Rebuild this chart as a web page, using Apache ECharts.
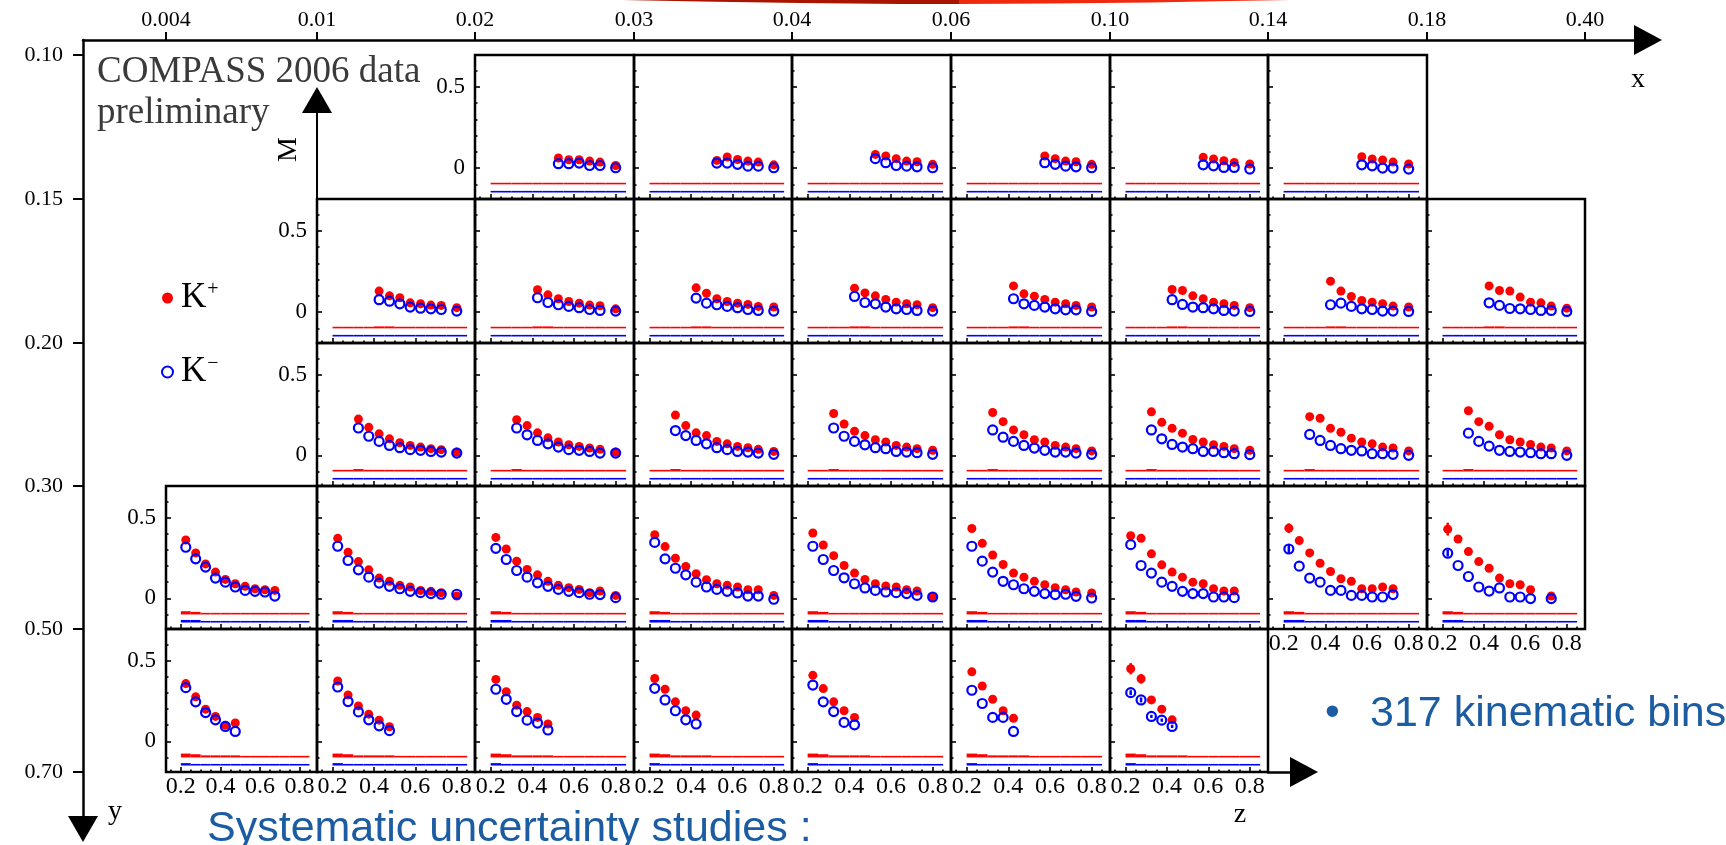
<!DOCTYPE html>
<html><head><meta charset="utf-8">
<script src="https://cdn.jsdelivr.net/npm/echarts@6/dist/echarts.min.js"></script>
<style>html,body{margin:0;padding:0;background:#fff}#c{width:1726px;height:845px}</style>
</head><body><div id="c"></div>
<script>
// ================= DATA =================
const X_BIN_LABELS = ['0.004','0.01','0.02','0.03','0.04','0.06','0.10','0.14','0.18','0.40'];
const Y_BIN_LABELS = ['0.10','0.15','0.20','0.30','0.50','0.70'];
const Z_CENTERS = [0.225,0.275,0.325,0.375,0.425,0.475,0.525,0.575,0.625,0.675,0.725,0.8];
const Z_LOW  = [0.20,0.25,0.30,0.35,0.40,0.45,0.50,0.55,0.60,0.65,0.70,0.75];
const Z_HIGH = [0.25,0.30,0.35,0.40,0.45,0.50,0.55,0.60,0.65,0.70,0.75,0.85];
const Z_TICK_LABELS = [0.2,0.4,0.6,0.8];
const M_TICK_LABELS = [0,0.5];

// row 1: y 0.10-0.15
const ROW1_COLS = [2,3,4,5,6,7];
const ROW1_FIRST_Z = [6,6,6,7,7,7];
const ROW1_KP = [
  [0.062,0.051,0.051,0.043,0.037,0.016],
  [0.047,0.068,0.053,0.043,0.037,0.020],
  [0.084,0.074,0.058,0.043,0.039,0.023],
  [0.074,0.058,0.043,0.039,0.023],
  [0.066,0.056,0.045,0.035,0.025],
  [0.070,0.056,0.050,0.037,0.025]];
const ROW1_KM = [
  [0.027,0.027,0.031,0.016,0.016,0.002],
  [0.031,0.031,0.023,0.012,0.012,0.002],
  [0.058,0.033,0.016,0.012,0.008,0.002],
  [0.033,0.023,0.012,0.008,0.002],
  [0.020,0.014,0.004,0.004,-0.006],
  [0.020,0.014,0.000,0.000,-0.006]];
const ROW1_SYS_KP = [0,0,0,0,0,0,0,0,0,0,0,0];
const ROW1_SYS_KM = [0,0,0,0,0,0,0,0,0,0,0,0];

// row 2: y 0.15-0.20
const ROW2_COLS = [1,2,3,4,5,6,7,8];
const ROW2_FIRST_Z = [4,4,4,4,4,4,4,4];
const ROW2_KP = [
  [0.129,0.100,0.088,0.057,0.051,0.043,0.041,0.027],
  [0.137,0.106,0.082,0.065,0.055,0.043,0.039,0.020],
  [0.149,0.116,0.082,0.065,0.055,0.047,0.035,0.031],
  [0.147,0.118,0.100,0.078,0.061,0.051,0.045,0.027],
  [0.161,0.112,0.098,0.078,0.061,0.051,0.041,0.031],
  [0.139,0.133,0.100,0.082,0.061,0.051,0.041,0.027],
  [0.190,0.129,0.096,0.071,0.061,0.051,0.037,0.031],
  [0.161,0.133,0.129,0.092,0.061,0.057,0.037,0.024]];
const ROW2_KM = [
  [0.076,0.067,0.051,0.031,0.024,0.020,0.016,0.006],
  [0.088,0.059,0.045,0.035,0.027,0.016,0.010,0.006],
  [0.086,0.055,0.045,0.035,0.027,0.016,0.010,0.006],
  [0.096,0.059,0.051,0.031,0.020,0.016,0.010,0.006],
  [0.082,0.051,0.041,0.031,0.020,0.014,0.014,0.004],
  [0.076,0.047,0.031,0.027,0.020,0.010,0.006,0.004],
  [0.045,0.055,0.035,0.020,0.016,0.006,0.006,0.004],
  [0.057,0.041,0.022,0.020,0.016,0.010,0.010,0.004]];
const ROW2_KP_ERR = [null,null,null,null,null,null,[0.015],null];
const ROW2_SYS_KP = [0,0,0,0,0.012,0.012,0.005,0.005,0.005,0.005,0.005,0.005];
const ROW2_SYS_KM = [0,0,0,0,0.006,0.006,0.006,0.006,0.006,0.006,0.006,0.006];

// row 3: y 0.20-0.30
const ROW3_COLS = [1,2,3,4,5,6,7,8];
const ROW3_FIRST_Z = [2,2,2,2,2,2,2,2];
const ROW3_KP = [
  [0.224,0.173,0.133,0.102,0.078,0.061,0.051,0.041,0.035,0.020],
  [0.220,0.184,0.139,0.108,0.082,0.065,0.055,0.045,0.037,0.020],
  [0.249,0.184,0.139,0.122,0.086,0.071,0.055,0.047,0.037,0.024],
  [0.259,0.194,0.149,0.122,0.096,0.082,0.061,0.051,0.041,0.031],
  [0.265,0.208,0.157,0.127,0.096,0.082,0.061,0.051,0.041,0.027],
  [0.269,0.204,0.167,0.137,0.098,0.082,0.065,0.055,0.041,0.031],
  [0.239,0.229,0.167,0.143,0.106,0.082,0.071,0.051,0.045,0.027],
  [0.276,0.208,0.180,0.127,0.096,0.082,0.067,0.051,0.045,0.027]];
const ROW3_KM = [
  [0.169,0.118,0.086,0.061,0.047,0.035,0.031,0.024,0.020,0.014],
  [0.169,0.127,0.092,0.071,0.051,0.035,0.031,0.024,0.014,0.014],
  [0.153,0.122,0.092,0.071,0.047,0.035,0.024,0.020,0.014,0.006],
  [0.169,0.118,0.086,0.065,0.047,0.041,0.024,0.020,0.016,0.006],
  [0.157,0.112,0.086,0.061,0.045,0.031,0.020,0.020,0.014,0.006],
  [0.157,0.102,0.067,0.051,0.041,0.024,0.024,0.016,0.010,0.004],
  [0.129,0.092,0.061,0.041,0.031,0.027,0.010,0.010,0.006,0.000],
  [0.137,0.086,0.057,0.031,0.024,0.020,0.016,0.010,0.010,0.000]];
const ROW3_SYS_KP = [0,0,0.015,0.010,0.010,0.004,0.004,0.004,0.004,0.004,0.004,0.004];
const ROW3_SYS_KM = [0,0,0.008,0,0,0,0,0,0,0,0,0];

// row 4: y 0.30-0.50
const ROW4_COLS = [0,1,2,3,4,5,6,7,8];
const ROW4_FIRST_Z = [0,0,0,0,0,0,0,0,0];
const ROW4_KP = [
  [0.361,0.281,0.213,0.162,0.117,0.090,0.074,0.059,0.053,0.049],
  [0.371,0.285,0.227,0.176,0.125,0.105,0.080,0.070,0.049,0.043,0.035,0.014],
  [0.377,0.305,0.230,0.178,0.145,0.105,0.080,0.066,0.055,0.035,0.045,0.018],
  [0.393,0.320,0.248,0.197,0.152,0.115,0.090,0.080,0.070,0.053,0.053,0.018],
  [0.404,0.330,0.264,0.203,0.156,0.117,0.090,0.076,0.070,0.053,0.045,0.008],
  [0.432,0.340,0.268,0.209,0.156,0.131,0.105,0.084,0.066,0.053,0.039,0.033],
  [0.387,0.371,0.275,0.207,0.162,0.131,0.100,0.090,0.059,0.045,0.045],
  [0.434,0.357,0.281,0.217,0.166,0.121,0.105,0.059,0.059,0.070,0.059],
  [0.428,0.367,0.289,0.227,0.186,0.125,0.090,0.084,0.053,null,0.014]];
const ROW4_KM = [
  [0.316,0.244,0.193,0.125,0.100,0.070,0.049,0.043,0.039,0.014],
  [0.322,0.234,0.176,0.131,0.094,0.074,0.059,0.043,0.035,0.029,0.025,0.025],
  [0.309,0.240,0.172,0.131,0.096,0.074,0.055,0.043,0.035,0.025,0.023,0.004],
  [0.346,0.244,0.186,0.145,0.100,0.070,0.055,0.043,0.033,0.014,0.014,-0.006],
  [0.322,0.240,0.172,0.127,0.090,0.064,0.049,0.039,0.035,0.029,0.018,0.008],
  [0.322,0.230,0.162,0.105,0.084,0.059,0.043,0.029,0.023,0.025,0.012,0.002],
  [0.332,0.203,0.156,0.100,0.074,0.043,0.029,0.029,0.008,0.008,0.004],
  [0.305,0.199,0.125,0.100,0.049,0.049,0.018,0.018,0.008,0.008,0.023],
  [0.279,0.203,0.135,0.070,0.045,0.064,0.008,0.008,-0.002,null,-0.002]];
const ROW4_KP_ERR = [null,null,null,null,null,null,null,[0.030],[0.040]];
const ROW4_KM_ERR = [null,null,null,null,null,null,null,[0.030],[0.020]];
const ROW4_SYS_KP = [0.020,0.016,0.008,0.008,0.004,0.003,0.003,0.003,0.003,0.003,0.003,0.003];
const ROW4_SYS_KM = [0.016,0.016,0.008,0.008,0.008,0.008,0.008,0.008,0.008,0.008,0.003,0.003];

// row 5: y 0.50-0.70
const ROW5_COLS = [0,1,2,3,4,5,6];
const ROW5_FIRST_Z = [0,0,0,0,0,0,0];
const ROW5_KP = [
  [0.357,0.275,0.199,0.154,0.100,0.113],
  [0.373,0.287,0.219,0.168,0.131,0.090],
  [0.383,0.307,0.223,0.184,0.148,0.107],
  [0.389,0.322,0.244,0.189,0.162],
  [0.408,0.326,0.244,0.189,0.148],
  [0.430,0.342,0.260,0.189,0.143],
  [0.449,0.387,0.256,0.199,0.133]];
const ROW5_KM = [
  [0.332,0.244,0.178,0.133,0.092,0.061],
  [0.336,0.246,0.182,0.133,0.096,0.066],
  [0.322,0.260,0.184,0.131,0.113,0.070],
  [0.328,0.256,0.189,0.133,0.107],
  [0.348,0.244,0.184,0.117,0.102],
  [0.316,0.234,0.148,0.148,0.061],
  [0.301,0.256,0.154,0.131,0.092]];
const ROW5_KP_ERR = [null,null,null,null,null,null,[0.035,0.030,0.015,0.020,0.020]];
const ROW5_KM_ERR = [null,null,null,null,null,null,[0.015,0.015,0.010,0.010,0.010]];
const ROW5_SYS_KP = [0.024,0.020,0.013,0.013,0.013,0.013,0,0,0,0,0,0];
const ROW5_SYS_KM = [0.015,0.010,0,0,0,0,0,0,0,0,0,0];

// ================= LAYOUT / STYLE =================
const COL_X = [166,317,475,634,792,951,1110,1268,1427,1585];
const ROW_Y = [55,199,343,486,629,772];
const Z_MIN = 0.125, Z_MAX = 0.888, M_MIN = -0.19, M_MAX = 0.695;
const Z_MINOR = [0.15,0.25,0.3,0.35,0.45,0.5,0.55,0.65,0.7,0.75,0.85];
const M_MINOR = [-0.1,0.1,0.2,0.3,0.4,0.6];
const KP_BASE = -0.1, KM_BASE = -0.15;
const RED = '#ff0000', BLUE = '#0000ff';
const SERIF = '"Liberation Serif","Times New Roman",serif';
const SANS = '"Liberation Sans",Arial,sans-serif';
const TXT_BLUE = '#1c5ca2';

const ROWS = [
  {cols:ROW1_COLS, first:ROW1_FIRST_Z, kp:ROW1_KP, km:ROW1_KM, kpErr:[], kmErr:[], sysKp:ROW1_SYS_KP, sysKm:ROW1_SYS_KM},
  {cols:ROW2_COLS, first:ROW2_FIRST_Z, kp:ROW2_KP, km:ROW2_KM, kpErr:ROW2_KP_ERR, kmErr:[], sysKp:ROW2_SYS_KP, sysKm:ROW2_SYS_KM},
  {cols:ROW3_COLS, first:ROW3_FIRST_Z, kp:ROW3_KP, km:ROW3_KM, kpErr:[], kmErr:[], sysKp:ROW3_SYS_KP, sysKm:ROW3_SYS_KM},
  {cols:ROW4_COLS, first:ROW4_FIRST_Z, kp:ROW4_KP, km:ROW4_KM, kpErr:ROW4_KP_ERR, kmErr:ROW4_KM_ERR, sysKp:ROW4_SYS_KP, sysKm:ROW4_SYS_KM},
  {cols:ROW5_COLS, first:ROW5_FIRST_Z, kp:ROW5_KP, km:ROW5_KM, kpErr:ROW5_KP_ERR, kmErr:ROW5_KM_ERR, sysKp:ROW5_SYS_KP, sysKm:ROW5_SYS_KM}
];

const grid = [], xAxis = [], yAxis = [], series = [];
const tickStyle = {color:'#000', width:1.6};

function bandRenderer(base, color) {
  return function (params, api) {
    const p0 = api.coord([api.value(0), base + api.value(2)]);
    const p1 = api.coord([api.value(1), base]);
    const h = Math.max(p1[1] - p0[1], 1.6);
    return {type:'rect', shape:{x:p0[0], y:p1[1] - h, width:p1[0] - p0[0], height:h}, style:{fill:color}};
  };
}
function errRenderer(color) {
  return function (params, api) {
    const z = api.value(0), v = api.value(1), e = api.value(2);
    const a = api.coord([z, v - e]), b = api.coord([z, v + e]);
    return {type:'line', shape:{x1:a[0], y1:a[1], x2:b[0], y2:b[1]}, style:{stroke:color, lineWidth:2.5}};
  };
}

ROWS.forEach(function (row, r) {
  row.cols.forEach(function (c, i) {
    const g = grid.length;
    grid.push({left:COL_X[c], top:ROW_Y[r], width:COL_X[c+1]-COL_X[c], height:ROW_Y[r+1]-ROW_Y[r],
      show:true, borderColor:'#000', borderWidth:2.5, backgroundColor:'transparent', containLabel:false, outerBoundsMode:'none'});
    const below = ROWS[r+1] && ROWS[r+1].cols.indexOf(c) >= 0;
    const xi = xAxis.length;
    xAxis.push({type:'value', gridIndex:g, min:Z_MIN, max:Z_MAX, position:'bottom',
      axisLine:{show:false, onZero:false}, splitLine:{show:false},
      axisTick:{show:true, inside:true, length:5, customValues:Z_TICK_LABELS, lineStyle:tickStyle},
      axisLabel:{show:!below, customValues:Z_TICK_LABELS, margin:3, color:'#000', fontSize:24, fontFamily:SERIF,
        formatter:function (v) { return String(v); }}});
    xAxis.push({type:'value', gridIndex:g, min:Z_MIN, max:Z_MAX, position:'bottom',
      axisLine:{show:false, onZero:false}, splitLine:{show:false}, axisLabel:{show:false},
      axisTick:{show:true, inside:true, length:2.5, customValues:Z_MINOR, lineStyle:tickStyle}});
    const yi = yAxis.length;
    yAxis.push({type:'value', gridIndex:g, min:M_MIN, max:M_MAX, position:'left',
      axisLine:{show:false, onZero:false}, splitLine:{show:false},
      axisTick:{show:true, inside:true, length:5, customValues:M_TICK_LABELS, lineStyle:tickStyle},
      axisLabel:{show:i === 0, customValues:M_TICK_LABELS, margin:10, color:'#000', fontSize:23, fontFamily:SERIF,
        formatter:function (v) { return String(v); }}});
    yAxis.push({type:'value', gridIndex:g, min:M_MIN, max:M_MAX, position:'left',
      axisLine:{show:false, onZero:false}, splitLine:{show:false}, axisLabel:{show:false},
      axisTick:{show:true, inside:true, length:2.5, customValues:M_MINOR, lineStyle:tickStyle}});

    const bins = Z_LOW.map(function (lo, k) { return [lo, Z_HIGH[k], row.sysKp[k]]; });
    const binsM = Z_LOW.map(function (lo, k) { return [lo, Z_HIGH[k], row.sysKm[k]]; });
    series.push({type:'custom', xAxisIndex:xi, yAxisIndex:yi, silent:true, z:2, renderItem:bandRenderer(KP_BASE, RED), data:bins});
    series.push({type:'custom', xAxisIndex:xi, yAxisIndex:yi, silent:true, z:2, renderItem:bandRenderer(KM_BASE, BLUE), data:binsM});

    const f = row.first[i];
    const kp = row.kp[i].map(function (v, k) { return [Z_CENTERS[f+k], v]; }).filter(function (p) { return p[1] !== null; });
    const km = row.km[i].map(function (v, k) { return [Z_CENTERS[f+k], v]; }).filter(function (p) { return p[1] !== null; });
    if (row.kpErr[i]) {
      series.push({type:'custom', xAxisIndex:xi, yAxisIndex:yi, silent:true, z:3, renderItem:errRenderer(RED),
        data:row.kpErr[i].map(function (e, k) { return [Z_CENTERS[f+k], row.kp[i][k], e]; })});
    }
    if (row.kmErr[i]) {
      series.push({type:'custom', xAxisIndex:xi, yAxisIndex:yi, silent:true, z:3, renderItem:errRenderer(BLUE),
        data:row.kmErr[i].map(function (e, k) { return [Z_CENTERS[f+k], row.km[i][k], e]; })});
    }
    series.push({type:'scatter', name:'K+', xAxisIndex:xi, yAxisIndex:yi, symbol:'circle', symbolSize:9, z:4,
      itemStyle:{color:RED, opacity:1}, emphasis:{disabled:true}, data:kp});
    series.push({type:'scatter', name:'K−', xAxisIndex:xi, yAxisIndex:yi, symbol:'circle', symbolSize:9, z:5,
      itemStyle:{color:'rgba(0,0,0,0)', borderColor:BLUE, borderWidth:2.2, opacity:1}, emphasis:{disabled:true}, data:km});
  });
});

// ---- outer axes ----
// top x axis (bin edges)
let g = grid.length;
grid.push({left:83, top:40, width:1648-83, height:1, show:false, containLabel:false, outerBoundsMode:'none'});
xAxis.push({type:'value', gridIndex:g, min:83, max:1648, position:'top',
  axisLine:{show:true, onZero:false, lineStyle:{color:'#000', width:2.5}, symbol:['none','triangle'], symbolSize:[30,28]},
  axisTick:{show:true, inside:false, length:8, customValues:COL_X, lineStyle:{color:'#000', width:2}},
  axisLabel:{show:true, customValues:COL_X, margin:9, color:'#000', fontSize:22, fontFamily:SERIF,
    formatter:function (v) { return X_BIN_LABELS[COL_X.indexOf(v)]; }},
  splitLine:{show:false}});
yAxis.push({type:'value', gridIndex:g, show:false});
// left y axis (bin edges), arrow at the bottom
g = grid.length;
grid.push({left:83, top:40, width:1, height:829-40, show:false, containLabel:false, outerBoundsMode:'none'});
xAxis.push({type:'value', gridIndex:g, show:false});
yAxis.push({type:'value', gridIndex:g, inverse:true, min:40, max:829, position:'left',
  axisLine:{show:true, onZero:false, lineStyle:{color:'#000', width:2.5}, symbol:['triangle','none'], symbolSize:[30,26]},
  axisTick:{show:true, inside:false, length:10, customValues:ROW_Y, lineStyle:{color:'#000', width:2}},
  axisLabel:{show:true, customValues:ROW_Y, margin:20, color:'#000', fontSize:22, fontFamily:SERIF,
    formatter:function (v) { return Y_BIN_LABELS[ROW_Y.indexOf(v)]; }},
  splitLine:{show:false}});
// M arrow
g = grid.length;
grid.push({left:317, top:100, width:1, height:99, show:false, containLabel:false, outerBoundsMode:'none'});
xAxis.push({type:'value', gridIndex:g, show:false});
yAxis.push({type:'value', gridIndex:g, min:0, max:1, position:'left',
  axisLine:{show:true, onZero:false, lineStyle:{color:'#000', width:2}, symbol:['none','triangle'], symbolSize:[30,26]},
  axisTick:{show:false}, axisLabel:{show:false}, splitLine:{show:false},
  name:'M', nameLocation:'middle', nameRotate:90, nameGap:14,
  nameTextStyle:{fontSize:28, fontFamily:SERIF, color:'#000'}});
// z arrow
g = grid.length;
grid.push({left:1268, top:772, width:1304-1268, height:1, show:false, containLabel:false, outerBoundsMode:'none'});
xAxis.push({type:'value', gridIndex:g, min:0, max:1, position:'top',
  axisLine:{show:true, onZero:false, lineStyle:{color:'#000', width:2.5}, symbol:['none','triangle'], symbolSize:[30,28]},
  axisTick:{show:false}, axisLabel:{show:false}, splitLine:{show:false}});
yAxis.push({type:'value', gridIndex:g, show:false});

const chart = echarts.init(document.getElementById('c'), null, {renderer:'canvas'});
chart.setOption({
  animation:false,
  backgroundColor:'#fff',
  grid:grid, xAxis:xAxis, yAxis:yAxis, series:series,
  legend:{orient:'vertical', left:156, top:274, itemWidth:11, itemHeight:11, itemGap:36, selectedMode:false,
    data:[{name:'K+', icon:'circle', itemStyle:{color:RED}},
          {name:'K−', icon:'circle', itemStyle:{color:'rgba(0,0,0,0)', borderColor:BLUE, borderWidth:2}}],
    formatter:function (n) { return n === 'K+' ? '{k|K}{s|+}' : '{k|K}{s|−}'; },
    textStyle:{fontSize:35, fontFamily:SERIF, color:'#000', lineHeight:38,
      rich:{k:{fontSize:35, fontFamily:SERIF, color:'#000', padding:[0,0,0,3]},
            s:{fontSize:20, fontFamily:SERIF, color:'#000', padding:[0,0,16,1]}}}},
  graphic:[
    {type:'polygon', shape:{points:[[623,0],[700,1.5],[800,3],[900,4],[959,4],[959,0]]}, style:{fill:'#a81400'}, silent:true},
    {type:'polygon', shape:{points:[[959,0],[959,4],[1050,3.5],[1150,2.5],[1230,1],[1290,0]]}, style:{fill:'#f02a10'}, silent:true},
    {type:'text', x:97, y:72, style:{text:'COMPASS 2006 data', font:'37px ' + SERIF, fill:'#3a3a3a', verticalAlign:'middle'}},
    {type:'text', x:97, y:113, style:{text:'preliminary', font:'37px ' + SERIF, fill:'#3a3a3a', verticalAlign:'middle'}},
    {type:'text', x:1638, y:80, style:{text:'x', font:'28px ' + SERIF, fill:'#000', align:'center', verticalAlign:'middle'}},
    {type:'text', x:115, y:812, style:{text:'y', font:'28px ' + SERIF, fill:'#000', align:'center', verticalAlign:'middle'}},
    {type:'text', x:1240, y:815, style:{text:'z', font:'28px ' + SERIF, fill:'#000', align:'center', verticalAlign:'middle'}},
    {type:'text', x:1325, y:713, style:{text:'•', font:'42px ' + SANS, fill:TXT_BLUE, verticalAlign:'middle'}},
    {type:'text', x:1370, y:714, style:{text:'317 kinematic bins', font:'43px ' + SANS, fill:TXT_BLUE, verticalAlign:'middle'}},
    {type:'text', x:207, y:829, style:{text:'Systematic uncertainty studies :', font:'43px ' + SANS, fill:TXT_BLUE, verticalAlign:'middle'}}
  ]
});
</script>
</body></html>
